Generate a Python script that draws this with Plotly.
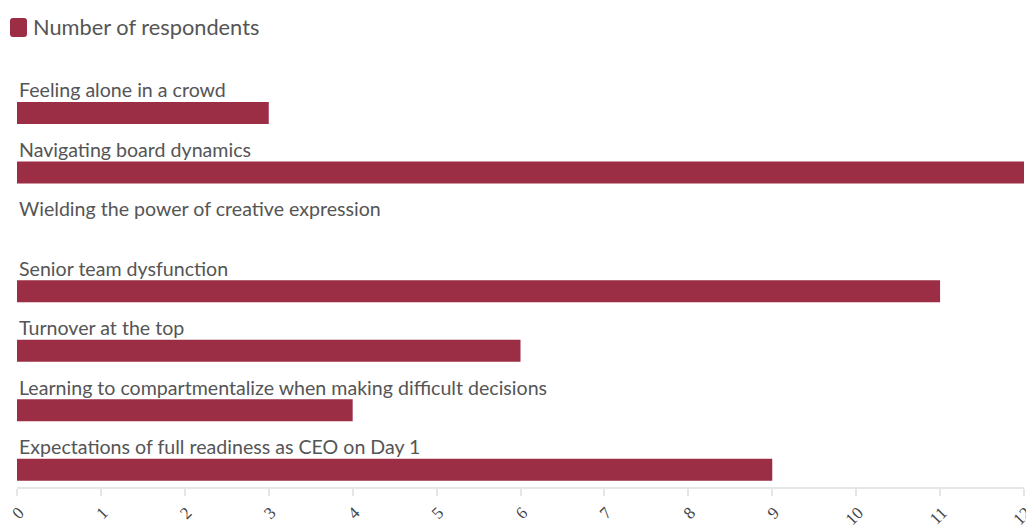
import plotly.graph_objects as go

categories = [
    "Feeling alone in a crowd",
    "Navigating board dynamics",
    "Wielding the power of creative expression",
    "Senior team dysfunction",
    "Turnover at the top",
    "Learning to compartmentalize when making difficult decisions",
    "Expectations of full readiness as CEO on Day 1",
]
values = [3, 12, 0, 11, 6, 4, 9]
tick_vals = list(range(0, 13))
series_name = "Number of respondents"

BAR = "#9b2d45"
TXT = "#555555"

OFF = 8  # page body margin offset
W, H = 1034, 529
# target plot box in page pixels: left 17, right 1024, top 60, bottom 487
ML = 17 - OFF
MT = 60 - OFF
MR = (W + OFF) - 1024
MB = (H + OFF) - 487
PW, PH = W - ML - MR, H - MT - MB

fig = go.Figure()
fig.add_trace(go.Bar(
    x=values, y=categories, orientation="h",
    marker=dict(color=BAR, line=dict(width=0)),
    name=series_name, showlegend=False,
))

for c in categories:
    fig.add_annotation(
        x=0, xref="paper", y=c, yref="y", yshift=23,
        text=c, showarrow=False, xanchor="left", yanchor="middle",
        font=dict(family="Lato", size=19.6, color=TXT),
    )

# custom legend (rounded square + label), coordinates in page pixels
def px_x(p):
    return (p - OFF - ML) / PW

def px_y(p):
    return (H - MB - (p - OFF)) / PH

x0, x1, y0, y1, r = 10, 27, 18, 37, 3
path = (f"M {px_x(x0 + r)},{px_y(y0)} L {px_x(x1 - r)},{px_y(y0)} "
        f"Q {px_x(x1)},{px_y(y0)} {px_x(x1)},{px_y(y0 + r)} "
        f"L {px_x(x1)},{px_y(y1 - r)} Q {px_x(x1)},{px_y(y1)} {px_x(x1 - r)},{px_y(y1)} "
        f"L {px_x(x0 + r)},{px_y(y1)} Q {px_x(x0)},{px_y(y1)} {px_x(x0)},{px_y(y1 - r)} "
        f"L {px_x(x0)},{px_y(y0 + r)} Q {px_x(x0)},{px_y(y0)} {px_x(x0 + r)},{px_y(y0)} Z")
fig.add_shape(type="path", path=path, xref="paper", yref="paper",
              fillcolor=BAR, line=dict(width=0))
fig.add_annotation(x=px_x(31), y=px_y(27), xref="paper", yref="paper",
                   text=series_name, showarrow=False, xanchor="left",
                   yanchor="middle", font=dict(family="Lato", size=21.8, color=TXT))

fig.update_layout(
    width=W, height=H,
    margin=dict(l=ML, r=MR, t=MT, b=MB),
    paper_bgcolor="white", plot_bgcolor="white",
    bargap=0.63,
    showlegend=False,
    font=dict(family="Lato", color=TXT),
    xaxis=dict(range=[0, 12], tickvals=tick_vals, tickangle=-45,
               showgrid=False, zeroline=False, showline=True,
               linecolor="#e6e6e6", linewidth=2, ticks="outside",
               tickcolor="#e6e6e6", ticklen=7, tickwidth=2,
               ticklabeloverflow="allow", ticklabelshift=2,
               tickfont=dict(family="Liberation Serif", size=17, color="#444444"),
               automargin=False),
    yaxis=dict(range=[6.29, -0.89], showticklabels=False, showgrid=False,
               zeroline=False, showline=False, ticks="", automargin=False),
)

fig.write_html("out.html")
